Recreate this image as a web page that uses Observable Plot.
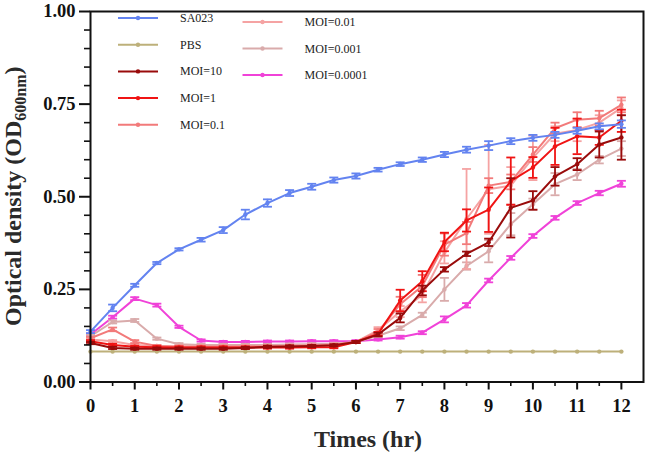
<!DOCTYPE html>
<html><head><meta charset="utf-8">
<script src="https://cdn.jsdelivr.net/npm/d3@7"></script>
<script src="https://cdn.jsdelivr.net/npm/@observablehq/plot@0.6"></script>
<style>
html,body{margin:0;padding:0;background:#fff}
svg{display:block}
</style>
</head><body><div id="chart"></div>
<script>
// ---- data ----
const times = [0,0.5,1,1.5,2,2.5,3,3.5,4,4.5,5,5.5,6,6.5,7,7.5,8,8.5,9,9.5,10,10.5,11,11.5,12];
const seriesNames = ["SA023","PBS","MOI=10","MOI=1","MOI=0.1","MOI=0.01","MOI=0.001","MOI=0.0001"];
const seriesColors = ["#6383F0","#BDB07A","#990B0B","#F01414","#F27A7A","#F5A3A3","#D9ABAB","#F042D8"];

const sa023    = [0.136,0.200,0.261,0.321,0.358,0.384,0.410,0.452,0.483,0.510,0.527,0.545,0.556,0.573,0.588,0.600,0.614,0.627,0.638,0.650,0.659,0.667,0.678,0.690,0.696];
const sa023Err = [0.004,0.009,0.004,0.003,0.003,0.005,0.008,0.013,0.010,0.008,0.008,0.007,0.007,0.005,0.005,0.006,0.007,0.008,0.012,0.008,0.008,0.008,0.008,0.008,0.010];

const pbs      = [0.082,0.082,0.082,0.082,0.082,0.082,0.082,0.082,0.082,0.082,0.082,0.082,0.082,0.082,0.082,0.082,0.082,0.082,0.082,0.082,0.082,0.082,0.082,0.082,0.082];
const pbsErr   = [0,0,0,0,0,0,0,0,0,0,0,0,0,0,0,0,0,0,0,0,0,0,0,0,0];

const moi10    = [0.105,0.092,0.090,0.090,0.090,0.090,0.090,0.092,0.095,0.096,0.097,0.099,0.108,0.128,0.173,0.247,0.304,0.346,0.377,0.470,0.490,0.555,0.588,0.641,0.660];
const moi10Err = [0.003,0.003,0.003,0.003,0.003,0.003,0.003,0.003,0.003,0.003,0.003,0.003,0.003,0.005,0.012,0.013,0.006,0.006,0.010,0.080,0.025,0.025,0.016,0.035,0.060];

const moi1     = [0.110,0.100,0.095,0.094,0.093,0.093,0.093,0.093,0.093,0.093,0.094,0.094,0.108,0.130,0.220,0.272,0.378,0.436,0.465,0.542,0.579,0.636,0.663,0.660,0.705];
const moi1Err  = [0.003,0.003,0.003,0.003,0.003,0.003,0.003,0.003,0.003,0.003,0.003,0.003,0.003,0.005,0.029,0.027,0.025,0.030,0.060,0.064,0.028,0.050,0.048,0.020,0.030];

const moi01    = [0.118,0.142,0.109,0.097,0.095,0.095,0.095,0.095,0.096,0.097,0.098,0.100,0.108,0.135,0.210,0.259,0.371,0.402,0.530,0.540,0.614,0.685,0.708,0.712,0.748];
const moi01Err = [0.004,0.005,0.004,0.003,0.003,0.003,0.003,0.003,0.003,0.003,0.003,0.003,0.003,0.008,0.020,0.030,0.030,0.030,0.020,0.020,0.020,0.015,0.020,0.020,0.020];

const moi001    = [0.115,0.110,0.100,0.097,0.096,0.096,0.096,0.096,0.097,0.098,0.099,0.101,0.108,0.140,0.190,0.235,0.350,0.440,0.520,0.530,0.605,0.670,0.680,0.700,0.740];
const moi001Err = [0.003,0.003,0.003,0.003,0.003,0.003,0.003,0.003,0.003,0.003,0.003,0.003,0.003,0.008,0.015,0.020,0.030,0.135,0.120,0.050,0.060,0.020,0.030,0.020,0.020];

const moi0001    = [0.124,0.162,0.166,0.117,0.102,0.100,0.100,0.100,0.100,0.101,0.102,0.103,0.108,0.125,0.145,0.181,0.250,0.313,0.353,0.426,0.480,0.534,0.560,0.600,0.630];
const moi0001Err = [0.003,0.004,0.004,0.003,0.003,0.003,0.003,0.003,0.003,0.003,0.003,0.003,0.003,0.004,0.005,0.006,0.031,0.010,0.030,0.030,0.015,0.030,0.015,0.010,0.020];

const moi00001    = [0.128,0.175,0.225,0.2075,0.149,0.112,0.108,0.108,0.109,0.109,0.110,0.110,0.110,0.115,0.121,0.133,0.169,0.207,0.274,0.335,0.394,0.443,0.483,0.510,0.535];
const moi00001Err = [0.003,0.004,0.004,0.004,0.003,0.003,0.003,0.003,0.003,0.003,0.003,0.003,0.003,0.003,0.004,0.004,0.008,0.006,0.005,0.005,0.005,0.005,0.005,0.006,0.008];

const xMajorTicks = [0,1,2,3,4,5,6,7,8,9,10,11,12];
const xMinorTicks = [0.5,1.5,2.5,3.5,4.5,5.5,6.5,7.5,8.5,9.5,10.5,11.5];
const yMajorTicks = [0,0.25,0.5,0.75,1.0];
const yMinorTicks = [0.05,0.1,0.15,0.2,0.3,0.35,0.4,0.45,0.55,0.6,0.65,0.7,0.8,0.85,0.9,0.95];
const xTitle = "Times (hr)";

// ---- build table ----
const valueSets = [sa023,pbs,moi10,moi1,moi01,moi001,moi0001,moi00001];
const errSets = [sa023Err,pbsErr,moi10Err,moi1Err,moi01Err,moi001Err,moi0001Err,moi00001Err];
const drawOrder = [1,7,6,5,4,3,2,0];
const rows = [];
for (const si of drawOrder) {
  times.forEach((t, i) => rows.push({series: seriesNames[si], t, v: valueSets[si][i], e: errSets[si][i]}));
}
const errRows = rows.filter(d => d.e > 0);

const capSymbol = {draw(ctx) { ctx.moveTo(-4.5, 0); ctx.lineTo(4.5, 0); }};
const ink = "#111";
const fontFam = "'Liberation Serif','Times New Roman',Times,serif";

const marks = [];
for (const si of drawOrder) {
  const name = seriesNames[si];
  const col = seriesColors[si];
  const sr = rows.filter(d => d.series === name);
  const se = errRows.filter(d => d.series === name);
  marks.push(
    Plot.ruleX(se, {x: "t", y1: d => d.v - d.e, y2: d => d.v + d.e, stroke: col, strokeWidth: 1.8}),
    Plot.dot(se, {x: "t", y: d => d.v + d.e, symbol: capSymbol, stroke: col, strokeWidth: 1.8}),
    Plot.dot(se, {x: "t", y: d => d.v - d.e, symbol: capSymbol, stroke: col, strokeWidth: 1.8}),
    Plot.line(sr, {x: "t", y: "v", stroke: col, strokeWidth: 2}),
    Plot.dot(sr, {x: "t", y: "v", r: 2.2, fill: col, stroke: "none"})
  );
}

const chart = Plot.plot({
  width: 646,
  height: 453,
  marginLeft: 90,
  marginRight: 3,
  marginTop: 11,
  marginBottom: 71.5,
  style: {fontFamily: fontFam, fontSize: "18.5px", fontWeight: "bold", color: ink, background: "#fff"},
  x: {domain: [0, 12.5]},
  y: {domain: [0, 1]},
  marks: [
    ...marks,
    Plot.frame({stroke: ink, strokeWidth: 2}),
    Plot.axisX(xMajorTicks, {tickSize: 8, tickPadding: 9, strokeWidth: 2, stroke: ink, fill: ink, label: null, tickFormat: d => String(d)}),
    Plot.axisX(xMinorTicks, {tickSize: 4.5, strokeWidth: 1.6, stroke: ink, fill: "none", label: null}),
    Plot.axisY(yMajorTicks, {tickSize: 11, tickPadding: 4, strokeWidth: 2, stroke: ink, fill: ink, label: null, tickFormat: d3.format(".2f")}),
    Plot.axisY(yMinorTicks, {tickSize: 6, strokeWidth: 1.6, stroke: ink, fill: "none", label: null})
  ]
});

document.getElementById("chart").appendChild(chart);

// ---- titles and legend (layout) ----
const svg = d3.select(chart);
const L = 90, R = 643, T = 11, B = 381.5;

svg.append("text")
  .attr("x", (L + R) / 2 + 1.5).attr("y", 447)
  .attr("text-anchor", "middle")
  .attr("font-family", fontFam).attr("font-weight", "bold").attr("font-size", 24)
  .attr("fill", "#2a2a2a")
  .text(xTitle);

const yt = svg.append("text")
  .attr("transform", `translate(21,${(T + B) / 2}) rotate(-90)`)
  .attr("text-anchor", "middle")
  .attr("font-family", fontFam).attr("font-weight", "bold").attr("font-size", 24)
  .attr("fill", "#2a2a2a");
yt.append("tspan").text("Optical density (OD");
yt.append("tspan").attr("font-size", 16).attr("dy", 5).text("600nm");
yt.append("tspan").attr("dy", -5).text(")");

const legendCols = [
  {x: L + 28, y0: 18, step: 26.7, items: [0,1,2,3,4]},
  {x: L + 152.5, y0: 22, step: 26.5, items: [5,6,7]}
];
const lg = svg.append("g").attr("font-family", fontFam).attr("font-size", 12)
  .attr("font-weight", "normal").attr("fill", "#222").attr("text-anchor", "start");
for (const c of legendCols) {
  c.items.forEach((si, k) => {
    const y = c.y0 + k * c.step;
    lg.append("line").attr("x1", c.x).attr("x2", c.x + 40).attr("y1", y).attr("y2", y)
      .attr("stroke", seriesColors[si]).attr("stroke-width", 2);
    lg.append("circle").attr("cx", c.x + 20).attr("cy", y).attr("r", 2.2).attr("fill", seriesColors[si]);
    lg.append("text").attr("x", c.x + 62).attr("y", y + 4).text(seriesNames[si]);
  });
}
</script>
</body></html>
